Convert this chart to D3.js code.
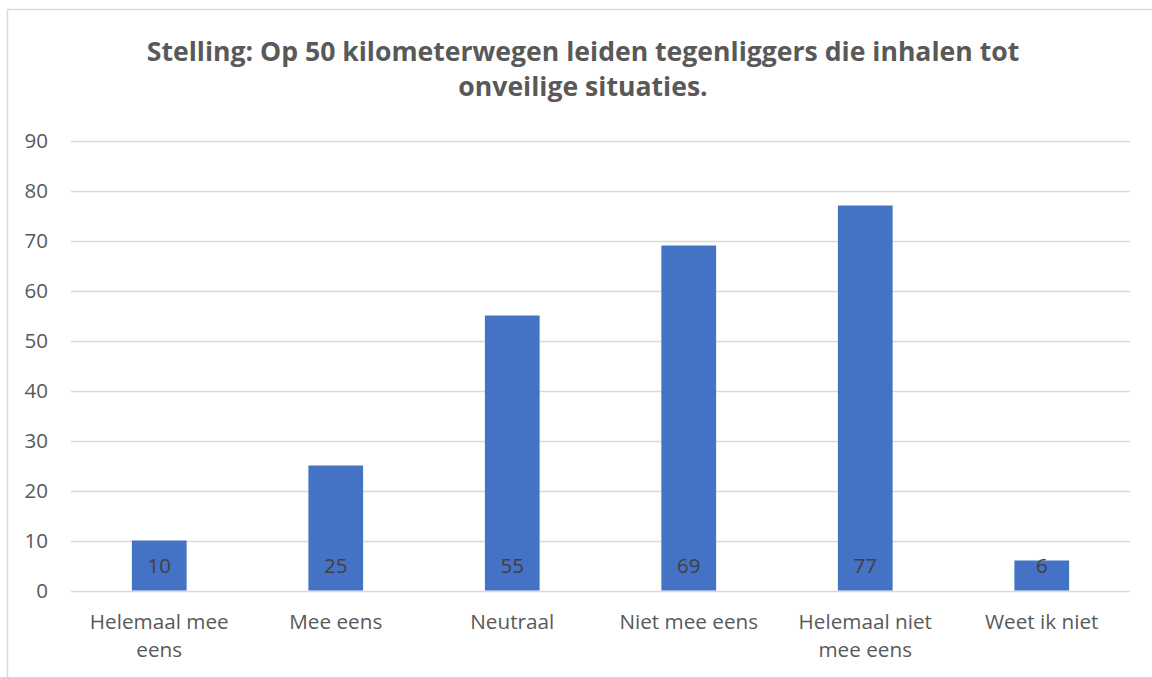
<!DOCTYPE html>
<meta charset="utf-8">
<script src="https://d3js.org/d3.v7.min.js"></script>
<style>
  body { margin: 0; background: #fff; }
  text { font-family: "Open Sans", sans-serif; }
</style>
<div id="chart"></div>
<script>
// data
var categories = ["Helemaal mee eens", "Mee eens", "Neutraal", "Niet mee eens", "Helemaal niet mee eens", "Weet ik niet"];
var categoryLines = [["Helemaal mee", "eens"], ["Mee eens"], ["Neutraal"], ["Niet mee eens"], ["Helemaal niet", "mee eens"], ["Weet ik niet"]];
var values = [10, 25, 55, 69, 77, 6];
var yTicks = [0, 10, 20, 30, 40, 50, 60, 70, 80, 90];
var titleLines = ["Stelling: Op 50 kilometerwegen leiden tegenliggers die inhalen tot", "onveilige situaties."];

var W = 1152, H = 677;
var margin = {top: 140.5, left: 71, right: 22, bottom: 86.5};

var svg = d3.select("#chart").append("svg")
  .attr("width", W)
  .attr("height", H);

// chart frame
svg.append("rect")
  .attr("x", 7.5).attr("y", 9.5)
  .attr("width", W + 20).attr("height", H + 20)
  .attr("fill", "#fff")
  .attr("stroke", "#d9d9d9")
  .attr("stroke-width", 1.5);

var x = d3.scaleBand()
  .domain(categories)
  .range([margin.left, W - margin.right])
  .paddingInner(0.69)
  .paddingOuter(0.345);

var y = d3.scaleLinear()
  .domain([0, 90])
  .range([H - margin.bottom, margin.top]);

// gridlines
svg.append("g")
  .selectAll("line")
  .data(yTicks)
  .enter().append("line")
    .attr("x1", margin.left)
    .attr("x2", W - margin.right)
    .attr("y1", function(d) { return Math.round(y(d)) + 0.5; })
    .attr("y2", function(d) { return Math.round(y(d)) + 0.5; })
    .attr("stroke", "#d9d9d9")
    .attr("stroke-width", 1.3);

// y axis labels
var yAxis = svg.append("g")
  .attr("transform", "translate(48,0)")
  .call(d3.axisLeft(y).tickValues(yTicks).tickSize(0).tickPadding(0));
yAxis.select(".domain").remove();
yAxis.selectAll("text")
  .style("font-family", "'Open Sans', sans-serif")
  .style("font-size", "20.5px")
  .attr("fill", "#595959")
  .attr("dy", "0.36em");

// bars
svg.append("g")
  .selectAll("rect")
  .data(values)
  .enter().append("rect")
    .attr("x", function(d, i) { return x(categories[i]); })
    .attr("y", function(d) { return y(d); })
    .attr("width", x.bandwidth())
    .attr("height", function(d) { return y(0) - y(d); })
    .attr("fill", "#4472c4");

// data labels, inside base
svg.append("g")
  .selectAll("text")
  .data(values)
  .enter().append("text")
    .attr("x", function(d, i) { return x(categories[i]) + x.bandwidth() / 2; })
    .attr("y", y(0) - 18)
    .attr("text-anchor", "middle")
    .style("font-size", "20.5px")
    .attr("fill", "#404040")
    .text(function(d) { return d; });

// category labels
var cat = svg.append("g")
  .selectAll("text")
  .data(categoryLines)
  .enter().append("text")
    .attr("x", function(d, i) { return x(categories[i]) + x.bandwidth() / 2; })
    .attr("y", 629)
    .attr("text-anchor", "middle")
    .style("font-size", "20.7px")
    .attr("fill", "#595959");
cat.selectAll("tspan")
  .data(function(d) { return d; })
  .enter().append("tspan")
    .attr("x", function() { return d3.select(this.parentNode).attr("x"); })
    .attr("dy", function(d, i) { return i === 0 ? 0 : 28; })
    .text(function(d) { return d; });

// title
svg.append("g")
  .selectAll("text")
  .data(titleLines)
  .enter().append("text")
    .attr("x", 583)
    .attr("y", function(d, i) { return 61 + i * 35; })
    .attr("text-anchor", "middle")
    .style("font-size", "26.6px")
    .style("font-weight", "bold")
    .attr("fill", "#595959")
    .text(function(d) { return d; });
</script>
